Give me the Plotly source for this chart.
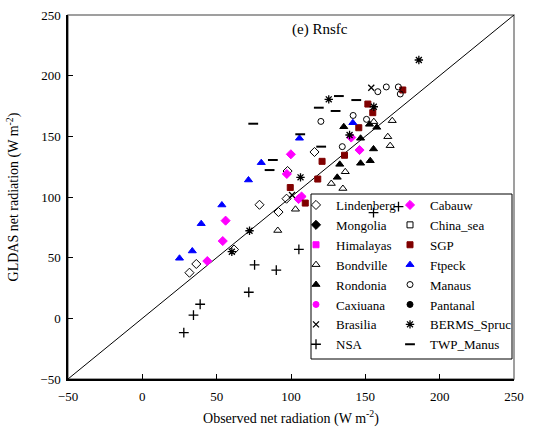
import plotly.graph_objects as go

# ---------------- data (Observed, GLDAS) in W m-2 ----------------
lindenberg_x = [115.8, 97.7, 97.0, 78.8, 91.6, 61.7, 36.3, 31.7]
lindenberg_y = [137.1, 121.4, 98.6, 93.6, 87.6, 56.7, 44.8, 37.6]

cabauw_x = [43.7, 54.1, 56.0, 97.2, 99.9, 105.1, 107.1, 140.5, 146.1]
cabauw_y = [47.2, 63.7, 80.5, 119.0, 135.2, 98.3, 100.4, 149.0, 138.7]

# sites listed in the legend but with no points on this panel
mongolia_x, mongolia_y = [None], [None]
chinasea_x, chinasea_y = [None], [None]
himalayas_x, himalayas_y = [None], [None]
caxiuana_x, caxiuana_y = [None], [None]
pantanal_x, pantanal_y = [None], [None]

sgp_x = [175.2, 151.7, 155.0, 145.6, 136.0, 120.9, 118.0, 99.5, 109.6]
sgp_y = [188.2, 176.6, 169.5, 157.1, 134.4, 129.4, 114.8, 107.8, 95.0]

bondville_x = [155.7, 168.1, 165.1, 166.7, 136.5, 127.1, 134.9, 103.0, 91.1]
bondville_y = [162.1, 162.9, 149.7, 142.3, 120.8, 111.1, 107.0, 89.9, 72.4]

ftpeck_x = [25.0, 33.6, 39.6, 53.5, 71.4, 80.0, 105.7, 141.6]
ftpeck_y = [49.5, 55.5, 78.0, 93.4, 114.0, 128.3, 148.4, 161.2]

rondonia_x = [135.5, 152.8, 157.7, 146.8, 155.5, 146.8, 153.3, 132.8, 131.1]
rondonia_y = [157.9, 159.9, 157.4, 148.4, 139.6, 127.8, 129.9, 126.9, 116.2]

manaus_x = [158.4, 164.1, 172.2, 173.5, 141.8, 150.8, 120.1, 134.5]
manaus_y = [186.8, 190.7, 190.7, 184.9, 167.2, 164.0, 162.3, 141.5]

brasilia_x = [154.0, 100.7]
brasilia_y = [190.1, 101.6]

berms_x = [186.0, 155.7, 125.4, 139.4, 106.4, 72.1, 60.2]
berms_y = [212.9, 174.4, 180.5, 151.1, 116.2, 72.2, 54.9]

nsa_x = [75.5, 90.1, 71.6, 38.9, 34.4, 27.9, 105.3, 155.5, 172.3]
nsa_y = [44.0, 39.8, 21.5, 11.6, 2.7, -11.8, 56.9, 87.1, 92.0]

twp_x = [74.6, 87.8, 85.6, 106.2, 118.7, 132.2, 130.0, 143.9, 120.3]
twp_y = [160.4, 130.5, 122.2, 151.7, 173.6, 183.2, 170.9, 179.9, 141.5]

axis_range = [-50, 250]
tick_vals = [-50, 0, 50, 100, 150, 200, 250]

FONT = "Liberation Serif, Times New Roman, serif"

fig = go.Figure()

# 1:1 line
fig.add_trace(go.Scatter(x=axis_range, y=axis_range, mode="lines",
                         line=dict(color="black", width=1), showlegend=False,
                         hoverinfo="skip"))

def add(name, xs, ys, symbol, color, size, legend, lw=1, lcolor=None):
    fig.add_trace(go.Scatter(
        x=xs, y=ys, mode="markers", name=name, legend=legend,
        marker=dict(symbol=symbol, color=color, size=size,
                    line=dict(width=lw, color=lcolor if lcolor else color))))

# column 1 of legend
add("Lindenberg", lindenberg_x, lindenberg_y, "diamond-open", "black", 7, "legend")
add("Mongolia", mongolia_x, mongolia_y, "diamond", "black", 7, "legend")
add("Himalayas", himalayas_x, himalayas_y, "square", "#FF00FF", 6, "legend")
add("Bondville", bondville_x, bondville_y, "triangle-up-open", "black", 7, "legend")
add("Rondonia", rondonia_x, rondonia_y, "triangle-up", "black", 7, "legend")
add("Caxiuana", caxiuana_x, caxiuana_y, "circle", "#FF00FF", 6, "legend")
add("Brasilia", brasilia_x, brasilia_y, "x-thin-open", "black", 6, "legend", 1.3)
add("NSA", nsa_x, nsa_y, "cross-thin-open", "black", 7, "legend", 1.3)
# column 2 of legend
add("Cabauw", cabauw_x, cabauw_y, "diamond", "#FF00FF", 7, "legend2")
add("China_sea", chinasea_x, chinasea_y, "square-open", "black", 6, "legend2")
add("SGP", sgp_x, sgp_y, "square", "#800000", 6, "legend2")
add("Ftpeck", ftpeck_x, ftpeck_y, "triangle-up", "#0000FF", 7, "legend2")
add("Manaus", manaus_x, manaus_y, "circle-open", "black", 6, "legend2")
add("Pantanal", pantanal_x, pantanal_y, "circle", "black", 6, "legend2")
add("BERMS_Spruc", berms_x, berms_y, "asterisk-open", "black", 7, "legend2", 1.3)
add("TWP_Manus", twp_x, twp_y, "line-ew-open", "black", 7, "legend2", 2)

W, H = 536, 439
ml, mr, mt, mb = 68, 22, 15, 60
pw, ph = W - ml - mr, H - mt - mb

def px2paper_x(px):
    return (px - ml) / pw

def px2paper_y(py):
    return (H - mb - py) / ph

leg_common = dict(font=dict(family=FONT, size=13, color="black"),
                  bgcolor="rgba(0,0,0,0)", borderwidth=0,
                  orientation="v", xanchor="left", yanchor="top",
                  itemclick=False, itemdoubleclick=False, tracegroupgap=0)

axis_common = dict(range=axis_range, tickvals=tick_vals, ticks="inside",
                   ticklen=5, tickcolor="black", showgrid=False, zeroline=False,
                   showline=True, linecolor="black", linewidth=1.5,
                   mirror=False, tickfont=dict(family=FONT, size=13, color="black"))

fig.update_layout(
    width=W, height=H,
    margin=dict(l=ml, r=mr, t=mt, b=mb, autoexpand=False),
    paper_bgcolor="white", plot_bgcolor="white",
    font=dict(family=FONT, size=13, color="black"),
    xaxis=dict(**axis_common, ticklabelstandoff=5,
               title=dict(text="Observed net radiation (W m<sup>-2</sup>)",
                          font=dict(family=FONT, size=14), standoff=10)),
    yaxis=dict(**axis_common, ticklabelstandoff=3,
               title=dict(text="GLDAS net radiation (W m<sup>-2</sup>)",
                          font=dict(family=FONT, size=14), standoff=18)),
    legend=dict(**leg_common, x=px2paper_x(296), y=px2paper_y(190)),
    legend2=dict(**leg_common, x=px2paper_x(390), y=px2paper_y(190)),
    shapes=[
        dict(type="rect", xref="paper", yref="paper", x0=0, x1=1, y0=0, y1=1,
             line=dict(color="#808080", width=1.5), layer="below"),
        dict(type="rect", xref="paper", yref="paper",
             x0=px2paper_x(311), x1=px2paper_x(512),
             y0=px2paper_y(359), y1=px2paper_y(194),
             line=dict(color="black", width=1), fillcolor="white", layer="below"),
    ],
    annotations=[
        dict(text="(e) Rnsfc", xref="paper", yref="paper",
             x=px2paper_x(320), y=px2paper_y(30), xanchor="center", yanchor="middle",
             showarrow=False, font=dict(family=FONT, size=15, color="black")),
    ],
)

fig.write_html("out.html")
